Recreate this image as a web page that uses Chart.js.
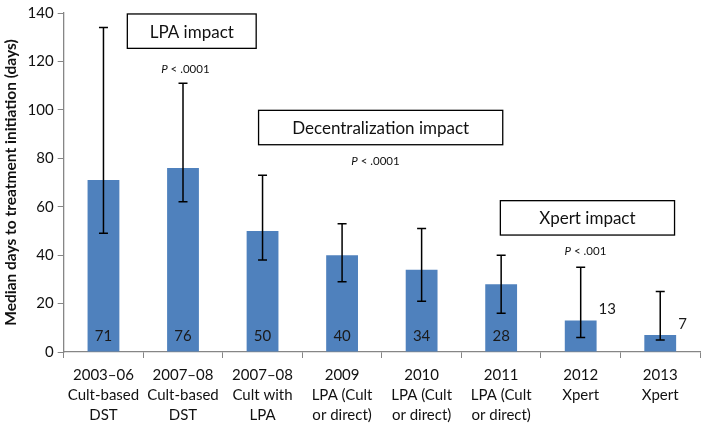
<!DOCTYPE html>
<html>
<head>
<meta charset="utf-8">
<script src="https://cdn.jsdelivr.net/npm/chart.js@4"></script>
<style>
  html, body { margin: 0; padding: 0; background: #fff; }
  #wrap { width: 702px; height: 425px; }
</style>
</head>
<body>
<div id="wrap"><canvas id="chart"></canvas></div>
<script>
const categories = [
  ['2003–06', 'Cult-based', 'DST'],
  ['2007–08', 'Cult-based', 'DST'],
  ['2007–08', 'Cult with', 'LPA'],
  ['2009', 'LPA (Cult', 'or direct)'],
  ['2010', 'LPA (Cult', 'or direct)'],
  ['2011', 'LPA (Cult', 'or direct)'],
  ['2012', 'Xpert'],
  ['2013', 'Xpert']
];
const medianDays = [71, 76, 50, 40, 34, 28, 13, 7];
const lowDays = [49, 62, 38, 29, 21, 16, 6, 5];
const highDays = [134, 111, 73, 53, 51, 40, 35, 25];
const yTicks = [0, 20, 40, 60, 80, 100, 120, 140];

// annotation boxes, in category index / data units
const impactBoxes = [
  { text: 'LPA impact', x0: 0.3, x1: 1.92, y0: 125.4, y1: 139.6 },
  { text: 'Decentralization impact', x0: 1.95, x1: 5.02, y0: 85.6, y1: 99.8 },
  { text: 'Xpert impact', x0: 4.99, x1: 7.18, y0: 48.3, y1: 62.5 }
];
const pNotes = [
  { text: ' < .0001', x: 1.03, y: 116.9 },
  { text: ' < .0001', x: 3.42, y: 78.7 },
  { text: ' < .001', x: 6.06, y: 41.4 }
];

const FONT = 'Lato, "Open Sans", sans-serif';

const extras = {
  id: 'extras',
  afterDatasetsDraw(chart) {
    const ctx = chart.ctx;
    const xs = chart.scales.x, ys = chart.scales.y;
    const meta = chart.getDatasetMeta(0);
    ctx.save();
    // error bars
    ctx.strokeStyle = '#000';
    ctx.lineWidth = 1.5;
    meta.data.forEach((bar, i) => {
      const x = bar.x;
      const yl = ys.getPixelForValue(lowDays[i]);
      const yh = ys.getPixelForValue(highDays[i]);
      ctx.beginPath();
      ctx.moveTo(x, yl); ctx.lineTo(x, yh);
      ctx.moveTo(x - 4.5, yl); ctx.lineTo(x + 4.5, yl);
      ctx.moveTo(x - 4.5, yh); ctx.lineTo(x + 4.5, yh);
      ctx.stroke();
    });
    // value labels
    ctx.fillStyle = '#1a1a1a';
    ctx.font = '15px ' + FONT;
    ctx.textAlign = 'center';
    ctx.textBaseline = 'middle';
    meta.data.forEach((bar, i) => {
      const v = medianDays[i];
      if (v >= 20) {
        ctx.fillText(String(v), bar.x, ys.getPixelForValue(6.5));
      } else {
        ctx.textAlign = 'left';
        ctx.fillText(String(v), bar.x + bar.width / 2 + 2, ys.getPixelForValue(v + 4.5));
        ctx.textAlign = 'center';
      }
    });
    // impact boxes
    impactBoxes.forEach(b => {
      const l = xs.getPixelForValue(b.x0), r = xs.getPixelForValue(b.x1);
      const t = ys.getPixelForValue(b.y1), btm = ys.getPixelForValue(b.y0);
      ctx.fillStyle = '#fff';
      ctx.fillRect(l, t, r - l, btm - t);
      ctx.strokeStyle = '#000';
      ctx.lineWidth = 1.3;
      ctx.strokeRect(l, t, r - l, btm - t);
      ctx.fillStyle = '#111';
      ctx.font = '17px ' + FONT;
      ctx.textAlign = 'center';
      ctx.fillText(b.text, (l + r) / 2, (t + btm) / 2 + 1);
    });
    // p-values
    pNotes.forEach(p => {
      const cx = xs.getPixelForValue(p.x), cy = ys.getPixelForValue(p.y);
      ctx.font = 'italic 11.5px ' + FONT;
      const w1 = ctx.measureText('P').width;
      ctx.font = '11.5px ' + FONT;
      const w2 = ctx.measureText(p.text).width;
      const start = cx - (w1 + w2) / 2;
      ctx.textAlign = 'left';
      ctx.fillStyle = '#111';
      ctx.font = 'italic 11.5px ' + FONT;
      ctx.fillText('P', start, cy);
      ctx.font = '11.5px ' + FONT;
      ctx.fillText(p.text, start + w1, cy);
    });
    ctx.restore();
  }
};

new Chart(document.getElementById('chart'), {
  type: 'bar',
  data: {
    labels: categories,
    datasets: [{
      data: medianDays,
      backgroundColor: '#4F81BD',
      borderWidth: 0,
      categoryPercentage: 1.0,
      barPercentage: 0.4
    }]
  },
  plugins: [extras],
  options: {
    responsive: true,
    maintainAspectRatio: false,
    animation: false,
    layout: { padding: { top: 7, right: 2, left: 2, bottom: 0 } },
    plugins: { legend: { display: false }, tooltip: { enabled: false } },
    scales: {
      x: {
        offset: true,
        afterFit: s => { s.height = 73; },
        grid: { display: true, drawOnChartArea: false, drawTicks: true, tickLength: 6, offset: true, color: '#868686' },
        border: { color: '#868686', width: 1.3 },
        ticks: { color: '#111', font: { family: FONT, size: 15, lineHeight: 1.33 }, maxRotation: 0, autoSkip: false, padding: 7 }
      },
      y: {
        min: 0, max: 140,
        afterBuildTicks: s => { s.ticks = yTicks.map(v => ({ value: v })); },
        grid: { display: true, drawOnChartArea: false, drawTicks: true, tickLength: 6, color: '#868686' },
        border: { color: '#868686', width: 1.3 },
        ticks: { color: '#111', font: { family: FONT, size: 15 }, padding: 4 },
        title: {
          display: true,
          text: 'Median days to treatment initiation (days)',
          color: '#111',
          font: { family: FONT, size: 15.5, weight: 'bold' },
          padding: { top: 0, bottom: 3 }
        }
      }
    }
  }
});
</script>
</body>
</html>
